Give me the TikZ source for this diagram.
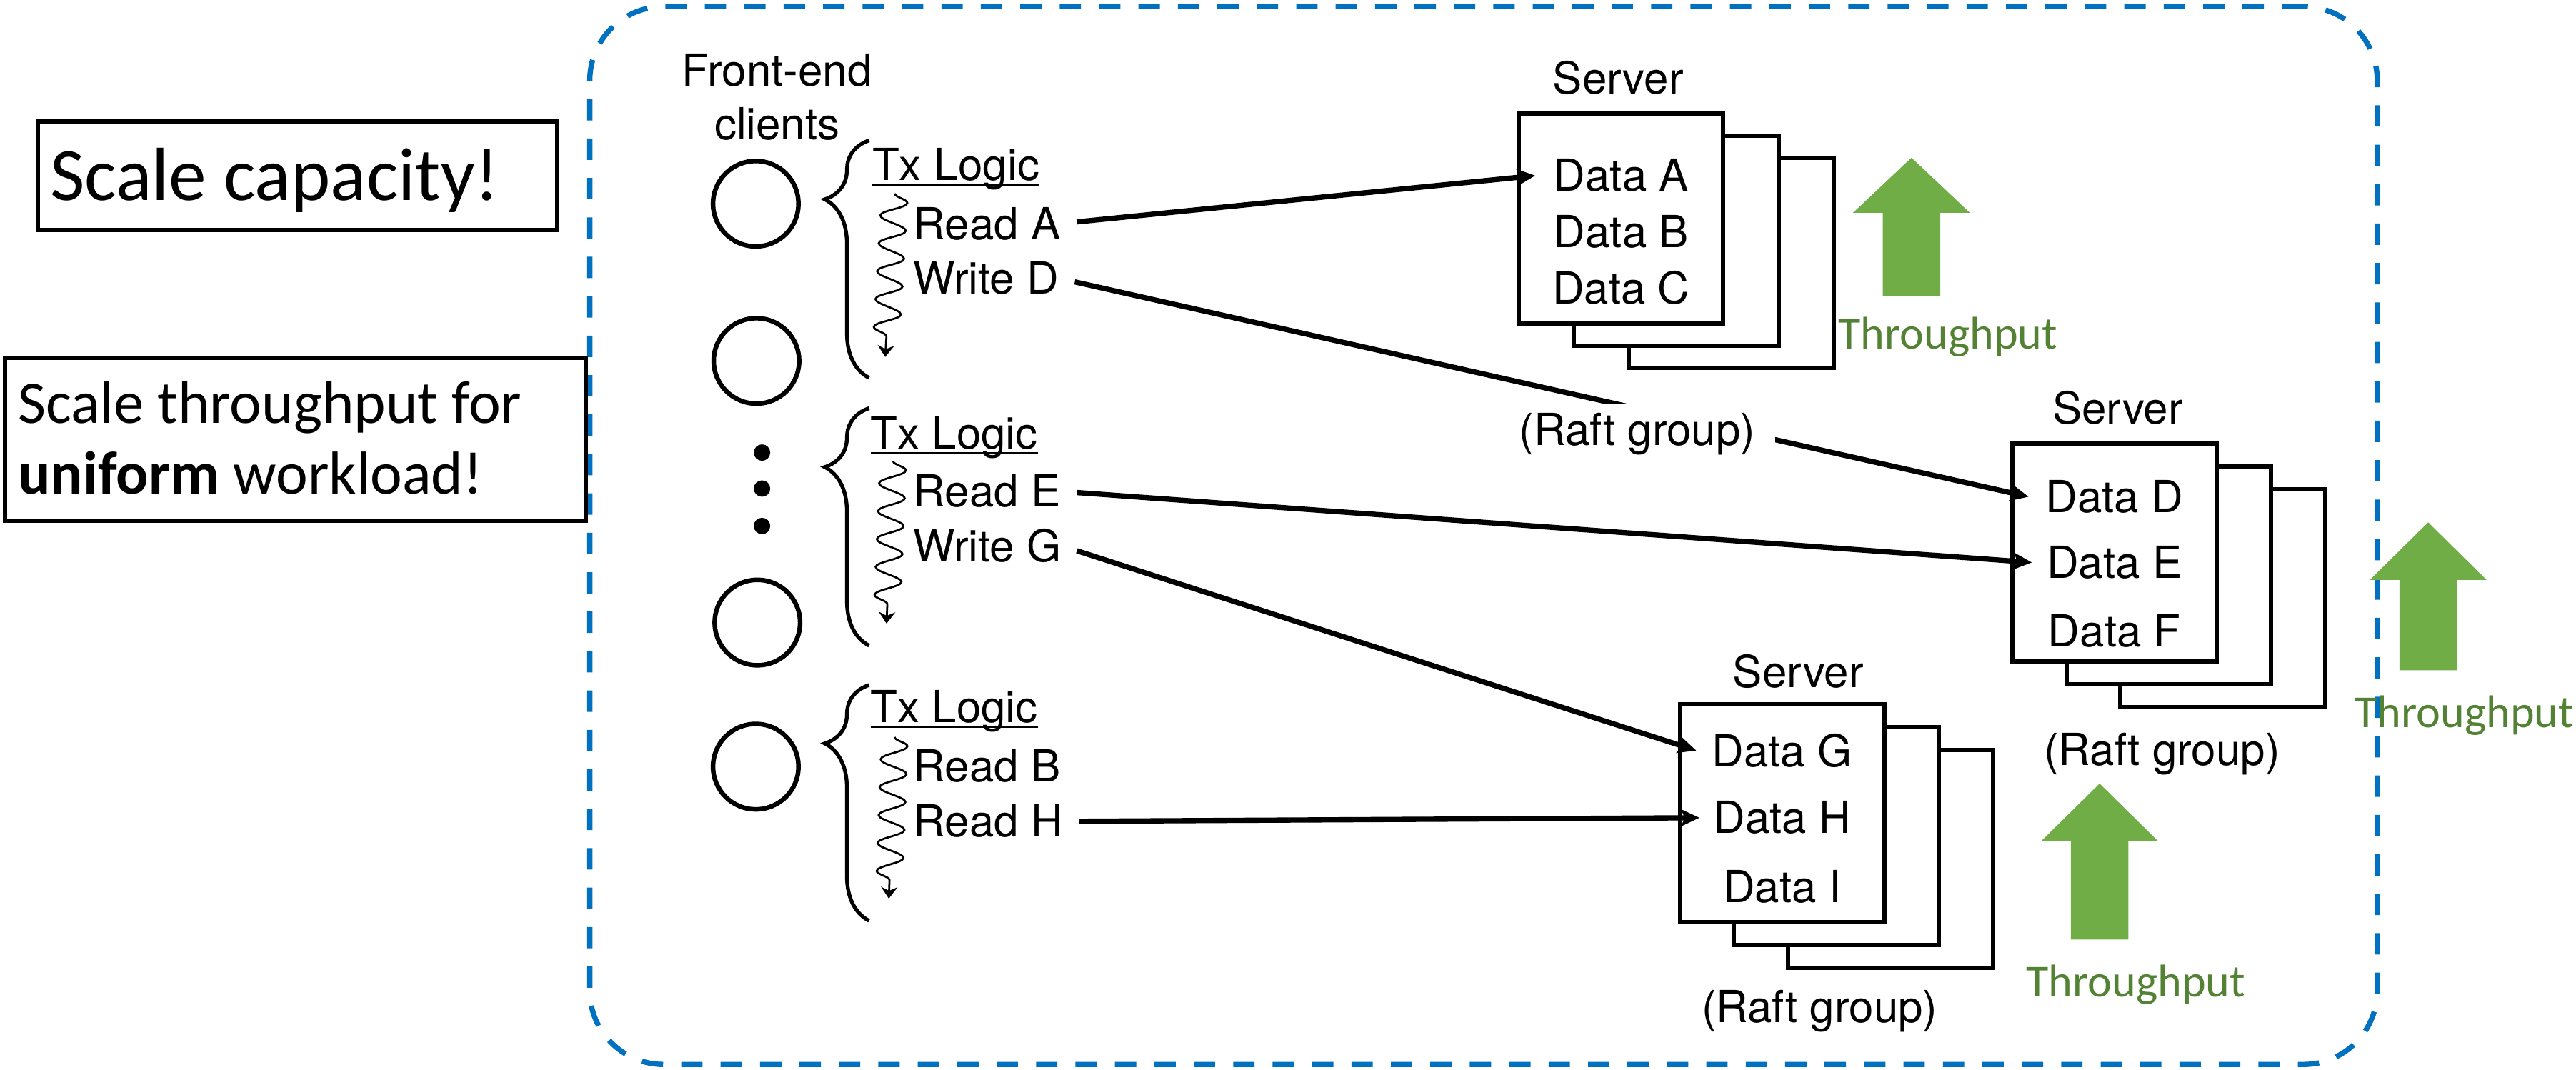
\documentclass[tikz,border=0pt]{standalone}
\usepackage{fontspec}
\setmainfont{TeX Gyre Heros}
\newfontfamily\cbfont{Carlito}
\usetikzlibrary{arrows.meta,decorations.pathreplacing,decorations.pathmorphing}

\definecolor{frameblue}{HTML}{0070C0}
\definecolor{upgreen}{HTML}{70AD47}
\definecolor{tpgreen}{HTML}{548235}

\begin{document}
\begin{tikzpicture}[x=1bp,y=-1bp,
  every node/.style={inner sep=0pt, outer sep=0pt},
  lbl/.style={font=\fontsize{27}{32}\selectfont},
  goalbox/.style={draw, line width=2.5bp},
  client/.style={draw, circle, line width=2.8bp, minimum size=52bp},
  dotn/.style={circle, fill=black, minimum size=10bp},
  bracestyle/.style={line width=2.3bp, decorate,
    decoration={brace, mirror, amplitude=27bp, aspect=0.248}},
  uline/.style={line width=1.5bp},
  wavy/.style={line width=1.2bp, decorate,
    decoration={snake, amplitude=8bp, segment length=17bp, post length=9bp},
    -{Stealth[length=7bp,width=10bp]}},
  srv/.style={draw, fill=white, line width=2.6bp, minimum width=124.5bp, minimum height=#1},
  conn/.style={line width=3.2bp, -{Stealth[length=11bp,width=10bp,inset=2bp]}, shorten <=10bp},
  raft/.style={lbl, anchor=base, fill=white, inner xsep=12bp, inner ysep=5.5bp},
  tp/.style={font=\cbfont\fontsize{28}{33}\selectfont, text=tpgreen, anchor=base},
  thru/.style={fill=upgreen}
]
\useasboundingbox (0,0) rectangle (1568,651);

% dashed system boundary
\node[draw=frameblue, line width=3.2bp, dash pattern=on 13bp off 11bp,
  rounded corners=45bp, minimum width=1088bp, minimum height=644bp] (frame) at (903,326) {};

% goals on the left
\node[goalbox, minimum width=315.8bp, minimum height=66bp] (goal1) at (181.1,107) {};
\node[anchor=base west, font=\cbfont\fontsize{46}{52}\selectfont] (goal1t) at (30.5,122) {Scale capacity!};
\node[goalbox, minimum width=353.4bp, minimum height=99bp] (goal2) at (179.7,267.5) {};
\node[anchor=base west, font=\cbfont\fontsize{37}{43}\selectfont] (goal2a) at (11,257.5) {Scale throughput for};
\node[anchor=base west, font=\cbfont\fontsize{37}{43}\selectfont] (goal2b) at (11,300.5) {\textbf{uniform} workload!};

% front-end clients
\node[lbl, anchor=base] (fe1) at (473,52.5) {Front-end};
\node[lbl, anchor=base] (fe2) at (473,85) {clients};
\node[client] (c1) at (460,124) {};
\node[client] (c2) at (460.4,219.7) {};
\node[client] (c3) at (461,379) {};
\node[client] (c4) at (460,466.7) {};
\node[dotn] (d1) at (463.8,275.5) {};
\node[dotn] (d2) at (463.8,297.4) {};
\node[dotn] (d3) at (463.8,320.2) {};

% transaction logic of each client
\draw[bracestyle] (529,85.5) -- (529,230);
\draw[bracestyle] (529,248.5) -- (529,393);
\draw[bracestyle] (529,417) -- (529,560.5);

\node[lbl, anchor=base west] (tx1) at (531,110) {Tx Logic};
\node[lbl, anchor=base west] (rA) at (556,145.7) {Read A};
\node[lbl, anchor=base west] (wD) at (556,179) {Write D};
\node[lbl, anchor=base west] (tx2) at (530,273.5) {Tx Logic};
\node[lbl, anchor=base west] (rE) at (556,308.7) {Read E};
\node[lbl, anchor=base west] (wG) at (556,342) {Write G};
\node[lbl, anchor=base west] (tx3) at (530,440) {Tx Logic};
\node[lbl, anchor=base west] (rB) at (556,476) {Read B};
\node[lbl, anchor=base west] (rH) at (556,509.6) {Read H};
\foreach \t in {tx1,tx2,tx3}
  \draw[uline] ([yshift=-2.5bp]\t.base west) -- ([yshift=-2.5bp]\t.base east);

\coordinate (w1s) at (544.6,117.8);
\coordinate (w1e) at (538.8,217.3);
\coordinate (w2s) at (543.6,280.7);
\coordinate (w2e) at (539.6,379.6);
\coordinate (w3s) at (544.5,448.7);
\coordinate (w3e) at (541,547);
\draw[wavy] (w1s) -- (w1e);
\draw[wavy] (w2s) -- (w2e);
\draw[wavy] (w3s) -- (w3e);

% server 1 (stacked replicas)
\node[srv=128bp] (s1c) at (1053.75,160) {};
\node[srv=128bp] (s1b) at (1020.25,146.5) {};
\node[srv=128bp] (s1a) at (986.75,133) {};
\node[lbl, anchor=base] (s1lab) at (985,57) {Server};
\node[lbl, anchor=base] (dA) at (986.75,116.5) {Data A};
\node[lbl, anchor=base] (dB) at (986.75,150.7) {Data B};
\node[lbl, anchor=base] (dC) at (986.75,185) {Data C};

% server 2
\node[srv=132.5bp] (s2c) at (1353,364.25) {};
\node[srv=132.5bp] (s2b) at (1320,350.25) {};
\node[srv=132.5bp] (s2a) at (1287,336.25) {};
\node[lbl, anchor=base] (s2lab) at (1289,258) {Server};
\node[lbl, anchor=base] (dD) at (1287,312) {Data D};
\node[lbl, anchor=base] (dE) at (1287,352) {Data E};
\node[lbl, anchor=base] (dF) at (1287,393.8) {Data F};

% server 3
\node[srv=132.7bp] (s3c) at (1150.75,523) {};
\node[srv=132.7bp] (s3b) at (1117.75,509) {};
\node[srv=132.7bp] (s3a) at (1084.75,495) {};
\node[lbl, anchor=base] (s3lab) at (1094.6,418.7) {Server};
\node[lbl, anchor=base] (dG) at (1084.75,466.7) {Data G};
\node[lbl, anchor=base] (dH) at (1084.75,507.4) {Data H};
\node[lbl, anchor=base] (dI) at (1084.75,549.6) {Data I};

% accesses from transactions to data
\coordinate (tA) at ([xshift=10bp]s1a.west |- dA.center);
\coordinate (tD) at ([xshift=10bp]s2a.west |- dD.center);
\coordinate (tE) at ([xshift=12bp]s2a.west |- dE.center);
\coordinate (tG) at ([xshift=10bp]s3a.west |- dG.center);
\coordinate (tH) at ([xshift=12bp]s3a.west |- dH.center);
\draw[conn] (rA.east) -- (tA);
\draw[conn] (wD.east) -- (tD);
\draw[conn] (rE.east) -- (tE);
\draw[conn] (wG.east) -- (tG);
\draw[conn] (rH.east) -- (tH);

% raft group labels
\node[raft] (rg1) at (996.6,271) {(Raft group)};
\node[raft] (rg2) at (1316,465.7) {(Raft group)};
\node[raft] (rg3) at (1107.6,622.3) {(Raft group)};

% throughput arrows
\fill[thru] (1128,129.5) -- (1163.5,96) -- (1199,129.5) -- (1181,129.5)
  -- (1181,180) -- (1146,180) -- (1146,129.5) -- cycle;
\fill[thru] (1442.5,353) -- (1478,318) -- (1513.5,353) -- (1495.5,353)
  -- (1495.5,408) -- (1460.5,408) -- (1460.5,353) -- cycle;
\fill[thru] (1242.5,512) -- (1278,477) -- (1313.5,512) -- (1295.5,512)
  -- (1295.5,572) -- (1260.5,572) -- (1260.5,512) -- cycle;
\node[tp] (tp1) at (1185.7,212.6) {Throughput};
\node[tp] (tp2) at (1500,442.8) {Throughput};
\node[tp] (tp3) at (1300,606.9) {Throughput};
\end{tikzpicture}
\end{document}
